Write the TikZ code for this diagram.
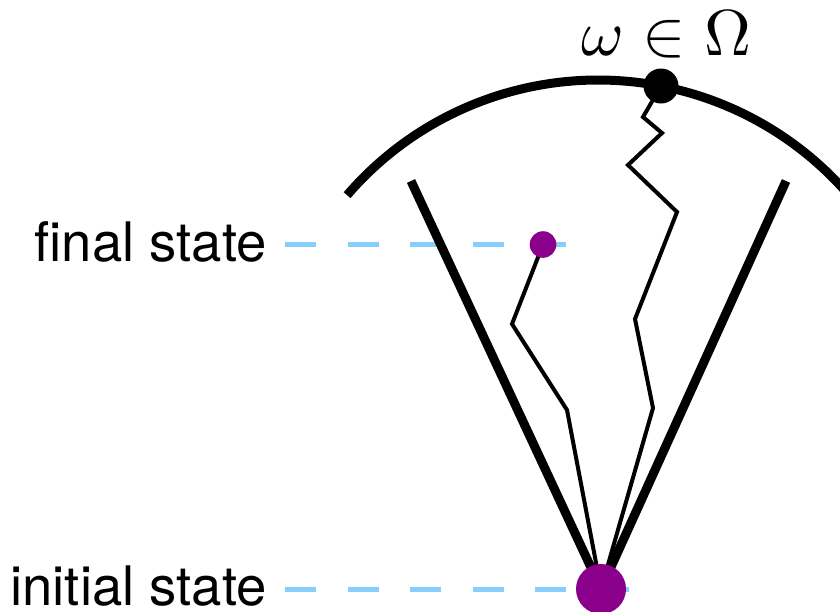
\documentclass[tikz,border=0pt]{standalone}
\usepackage{fontspec}
\newfontfamily\labelfont{TeX Gyre Heros}
\usetikzlibrary{backgrounds}
\definecolor{dotpurple}{RGB}{139,0,139}
\definecolor{guideblue}{RGB}{135,206,250}
\begin{document}
\begin{tikzpicture}[x=1pt,y=-1pt,
  guide/.style={guideblue, line width=5pt, dash pattern=on 31pt off 31.5pt},
  cone/.style={line width=9pt},
  rim/.style={line width=9pt},
  walk/.style={line width=4pt},
  statedot/.style={circle, fill=dotpurple, inner sep=0pt},
  statelabel/.style={font=\labelfont\fontsize{54.5}{60}\selectfont, inner sep=0pt, anchor=base east}]
\useasboundingbox (0,0) rectangle (840,611);
% nodes
\node[statedot, minimum size=50pt] (init) at (601,589) {};
\node[statedot, minimum size=26.6pt] (final) at (543,244.5) {};
\node[circle, fill=black, inner sep=0pt, minimum size=35pt] (omega) at (661,86) {};
\node[statelabel] (flab) at (267,261.5) {final state};
\node[statelabel] (ilab) at (267,605) {initial state};
\node[scale=6.5, anchor=base, inner sep=0pt] (olab) at (666.5,55) {$\omega\in\Omega$};
\coordinate (arcC) at (598,411);
\coordinate (coneL) at (411,181);
\coordinate (coneR) at (786,181);
% connectors
\begin{pgfonlayer}{background}
\clip (0,0) rectangle (840,611);
\draw[guide] ([xshift=18pt]flab.east |- final.center) -- ([xshift=10pt]final.east);
\draw[guide] ([xshift=18pt]ilab.east |- init.center) -- ([xshift=3.5pt]init.east);
\draw[cone] (coneL) -- (init.center);
\draw[cone] (coneR) -- (init.center);
\draw[rim] (arcC) ++(-139.3:331) arc[start angle=-139.3, end angle=-30, radius=331];
\draw[walk] (init.center) -- (653,408) -- (635,319) -- (677,212) -- (628,165) -- (662,133) -- (643,117) -- (omega.center);
\draw[walk] (init.center) -- (567,410) -- (512,324) -- (final.center);
\end{pgfonlayer}
\end{tikzpicture}
\end{document}
